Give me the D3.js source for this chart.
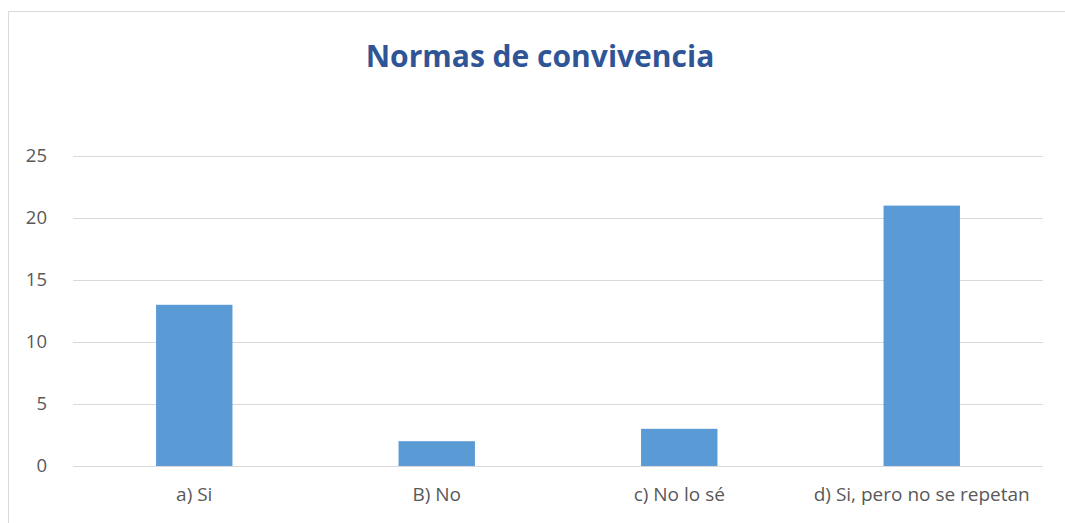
<!DOCTYPE html>
<html>
<head>
<meta charset="utf-8">
<script src="https://cdn.jsdelivr.net/npm/d3@7"></script>
<style>
  body { margin: 0; background: #fff; }
  text { font-family: "Open Sans", "Noto Sans", sans-serif; }
</style>
</head>
<body>
<div id="container"></div>
<script>
/* DATA */
const categories = ["a) Si", "B) No", "c) No lo sé", "d) Si, pero no se repetan"];
const values = [13, 2, 3, 21];
const yTicks = [0, 5, 10, 15, 20, 25];
const title = "Normas de convivencia";

/* CONSTANTS */
const width = 1065, height = 523,
  margin = {top: 156, left: 73, bottom: 57, right: 22};

const svg = d3.select("#container")
  .append("svg")
  .attr("width", width)
  .attr("height", height)

// chart frame
svg.append("rect")
  .attr("x", 8.5).attr("y", 11.5)
  .attr("width", width + 10).attr("height", height + 10)
  .attr("fill", "none")
  .attr("stroke", "#d9d9d9")

// SCALES
const xScale = d3.scaleBand()
  .domain(categories)
  .range([margin.left, width - margin.right])
  .paddingInner(0.685)
  .paddingOuter(0.3425)

const yScale = d3.scaleLinear()
  .domain([0, 25])
  .range([height - margin.bottom, margin.top])

// GRIDLINES
svg.append("g")
  .selectAll("line")
  .data(yTicks)
  .join("line")
  .attr("x1", margin.left)
  .attr("x2", width - margin.right)
  .attr("y1", d => Math.round(yScale(d)) + 0.5)
  .attr("y2", d => Math.round(yScale(d)) + 0.5)
  .attr("stroke", "#d9d9d9")
  .attr("stroke-width", 1)

// Y AXIS LABELS
const yAxis = d3.axisLeft(yScale).tickValues(yTicks).tickSize(0).tickPadding(0)
const yG = svg.append("g")
  .attr("transform", `translate(${margin.left - 26}, 0)`)
  .call(yAxis)
yG.select(".domain").remove()
yG.selectAll("text")
  .attr("fill", "#595959")
  .style("font-size", "18.5px")

// BARS
svg.selectAll(".bar")
  .data(values)
  .join("rect")
  .attr("class", "bar")
  .attr("x", (d, i) => xScale(categories[i]))
  .attr("width", xScale.bandwidth())
  .attr("y", d => yScale(d))
  .attr("height", d => yScale(0) - yScale(d))
  .attr("fill", "#5b9bd5")

// X AXIS LABELS
const xAxis = d3.axisBottom(xScale).tickSize(0).tickPadding(0)
const xG = svg.append("g")
  .attr("transform", `translate(0, ${height - margin.bottom + 21})`)
  .call(xAxis)
xG.select(".domain").remove()
xG.selectAll("text")
  .attr("fill", "#595959")
  .style("font-size", "19px")

// TITLE
svg.append("text")
  .attr("x", 540)
  .attr("y", 67)
  .attr("text-anchor", "middle")
  .attr("fill", "#2f5597")
  .style("font-size", "30px")
  .style("font-weight", "bold")
  .text(title)
</script>
</body>
</html>
